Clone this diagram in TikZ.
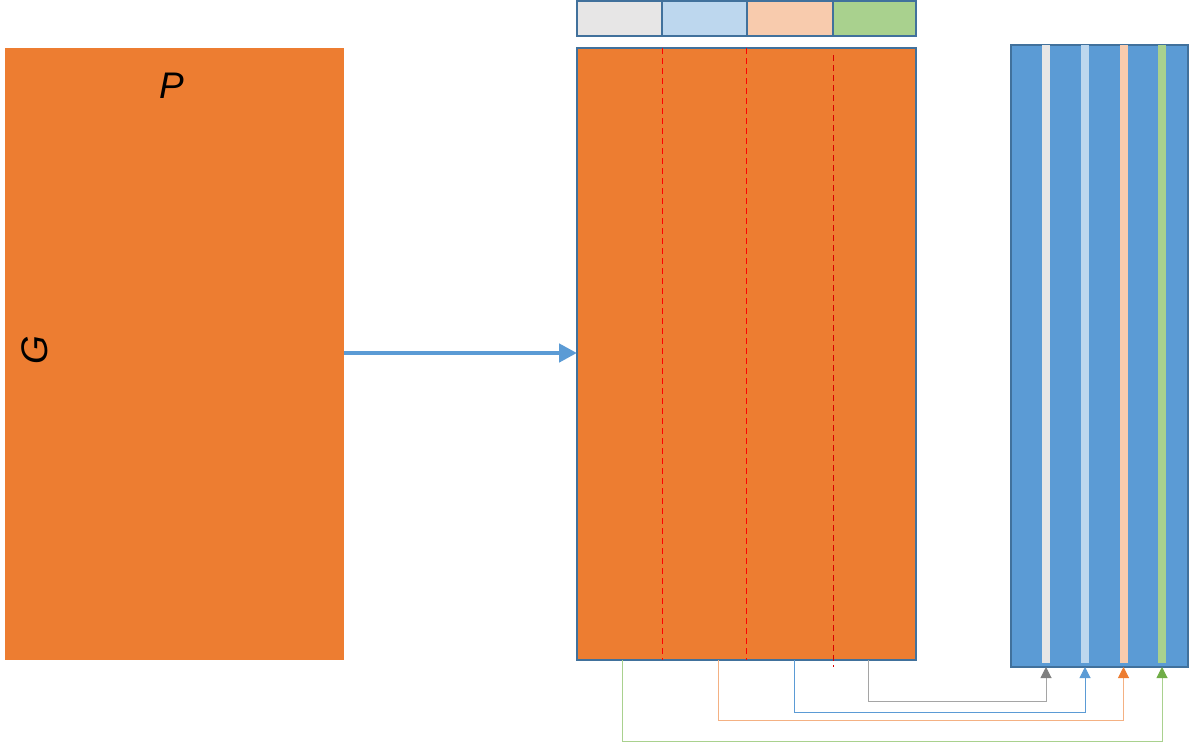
\documentclass[tikz,border=0pt]{standalone}
\usepackage{fontspec}
\setmainfont{Liberation Sans}
\usetikzlibrary{arrows.meta}
\definecolor{orng}{HTML}{ED7D31}
\definecolor{blu}{HTML}{5B9BD5}
\definecolor{brd}{HTML}{41719C}
\definecolor{gry}{HTML}{E7E6E6}
\definecolor{lblu}{HTML}{BDD7EE}
\definecolor{pch}{HTML}{F8CBAD}
\definecolor{grn}{HTML}{A9D18E}
\definecolor{gline}{HTML}{A5A5A5}
\definecolor{garr}{HTML}{7F7F7F}
\definecolor{oline}{HTML}{F4B183}
\definecolor{grarr}{HTML}{70AD47}
\tikzset{
  box/.style={inner sep=0pt, outer sep=0pt, anchor=north west},
  cell/.style={box, draw=brd, line width=1.5pt, minimum height=35pt, minimum width=85pt},
  stripe/.style={box, minimum width=7.5pt, minimum height=618pt},
  sep/.style={red, dashed, line width=0.6pt, dash pattern=on 6pt off 4pt},
  conn/.style={line width=1pt, -{Triangle[width=11pt,length=11pt]}},
}
\begin{document}
\begin{tikzpicture}[x=1pt,y=-1pt]
\useasboundingbox (0,0) rectangle (1189,742);
% left block
\node[box, fill=orng, minimum width=339pt, minimum height=612pt] (left) at (5,48) {};
\node[font=\fontsize{37}{37}\selectfont\itshape] (P) at (172,86) {P};
\node[font=\fontsize{37}{37}\selectfont\itshape, rotate=90] (G) at (35,350) {G};
% middle block
\node[box, fill=orng, draw=brd, line width=1.5pt, minimum width=339pt, minimum height=612pt] (mid) at (577,48) {};
\draw[sep] (662,48) -- (662,660);
\draw[sep] (746,48) -- (746,660);
\draw[sep, red!85!black] (833,55) -- (833,667);
% top cells
\node[cell, fill=gry, minimum width=85pt] (c1) at (577,1) {};
\node[cell, fill=lblu, minimum width=85pt] (c2) at (662,1) {};
\node[cell, fill=pch, minimum width=86pt] (c3) at (747,1) {};
\node[cell, fill=grn, minimum width=83pt] (c4) at (833,1) {};
% arrow
\coordinate (as) at (344,353);
\draw[blu, line width=4.5pt, -{Triangle[width=18pt,length=18pt]}] (as) -- (mid.west |- as);
% right block
\node[box, fill=blu, draw=brd, line width=1.5pt, minimum width=177pt, minimum height=622pt] (right) at (1011,45) {};
\node[stripe, fill=gry] (s1) at (1042,45) {};
\node[stripe, fill=lblu] (s2) at (1081,45) {};
\node[stripe, fill=pch] (s3) at (1120,45) {};
\node[stripe, fill=grn] (s4) at (1158,45) {};
% connectors
\coordinate (o1) at (868,660);
\coordinate (o2) at (794,660);
\coordinate (o3) at (718,660);
\coordinate (o4) at (622,660);
\coordinate (t1) at (1046,667);
\coordinate (t2) at (1085,667);
\coordinate (t3) at (1123.5,667);
\coordinate (t4) at (1162,667);
\draw[conn, gline, -{Triangle[width=11pt,length=11pt,fill=garr,color=garr]}] (o1) |- (1046,701) -- (t1);
\draw[conn, blu] (o2) |- (1085,712) -- (t2);
\draw[conn, oline, -{Triangle[width=11pt,length=11pt,fill=orng,color=orng]}] (o3) |- (1123.5,720) -- (t3);
\draw[conn, grn, -{Triangle[width=11pt,length=11pt,fill=grarr,color=grarr]}] (o4) |- (1162,741) -- (t4);
\end{tikzpicture}
\end{document}
